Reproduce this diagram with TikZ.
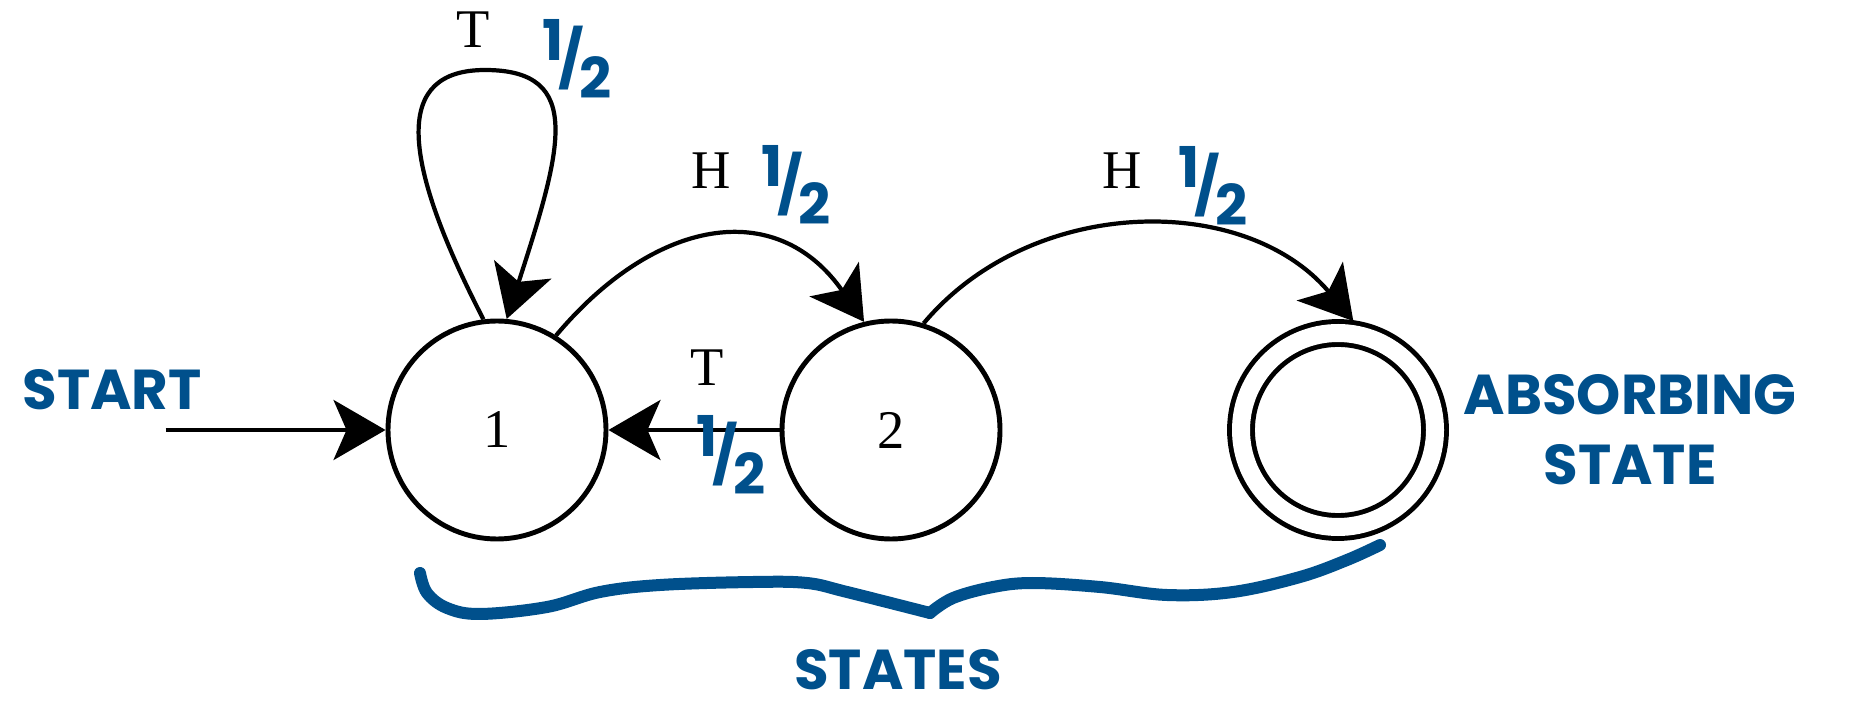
\documentclass[tikz,border=0pt]{standalone}
\usepackage{fontspec}
\setmainfont{Liberation Serif}
\newfontfamily\handfont{Poppins}
\usetikzlibrary{arrows.meta,positioning}
\definecolor{ink}{HTML}{00508C}
\newcommand{\hhalf}{\raisebox{0.6ex}{1}\kern-0.08em/\kern-0.08em\raisebox{-0.6ex}{2}}

\begin{document}
\begin{tikzpicture}[
  st/.style={circle, draw, line width=1.4pt, minimum size=2.18cm, inner sep=0pt, font=\fontsize{15.5}{18}\selectfont},
  absorb/.style={circle, draw, line width=1.4pt, double, double distance=0.18cm, minimum size=1.94cm, inner sep=0pt, outer sep=0.13cm},
  arrow/.style={-{Stealth[length=5.2mm, width=6mm, inset=1.3mm]}, line width=1.2pt},
  lbl/.style={font=\fontsize{15.5}{18}\selectfont, inner sep=0pt},
  hand/.style={ink, font=\handfont\bfseries\fontsize{16}{20}\selectfont, inner sep=0pt, align=center},
  brace/.style={ink, line width=0.12cm, line cap=round, line join=round}
]
  \useasboundingbox (0,0) rectangle (18.62,7.10);

  % states
  \node[st] (s1) at (4.97,2.8) {1};
  \node[st] (s2) at (8.91,2.8) {2};
  \node[absorb] (s3) at (13.38,2.8) {};

  % start arrow
  \coordinate[left=2.2cm of s1.west] (in);
  \draw[arrow] (in) -- (s1);
  \node[hand] (start) at (1.12,3.20) {START};

  % transitions
  \coordinate (looptop) at (4.85,6.40);
  \draw[arrow] (s1.97) .. controls +(-0.85,1.65) and +(-0.9,0) .. (looptop)
    .. controls +(1.0,0) and +(0.55,1.7) .. (s1.85);
  \draw[arrow] (s1.58) to[out=50, in=125, looseness=1.27] (s2.104);
  \draw[arrow] (s2.73) to[out=50, in=130] (s3.82);
  \draw[arrow] (s2) -- (s1);

  % coin labels
  \node[lbl] (tl) at (4.73,6.80) {T};
  \node[lbl] (h1) at (7.11,5.39) {H};
  \node[lbl] (h2) at (11.22,5.39) {H};
  \node[lbl] (t2) at (7.07,3.42) {T};

  % hand notes
  \node[hand] (f0) at (5.77,6.51) {\hhalf};
  \node[hand] (f1) at (7.96,5.25) {\hhalf};
  \node[hand] (f2) at (12.13,5.24) {\hhalf};
  \node[hand] (f3) at (7.31,2.55) {\hhalf};
  \node[hand, right=0.15cm of s3] (abs) {ABSORBING\\STATE};

  % brace under the states
  \draw[brace] plot[smooth, tension=0.6] coordinates {(4.20,1.37) (4.27,1.17) (4.47,1.02) (4.80,0.96) (5.47,1.03) (6.00,1.18) (6.60,1.25) (7.53,1.28) (8.07,1.27) (8.47,1.18) (9.30,0.97)};
  \draw[brace] plot[smooth, tension=0.6] coordinates {(9.30,0.97) (9.53,1.12) (9.93,1.23) (10.33,1.27) (11.00,1.23) (11.67,1.15) (12.33,1.18) (13.00,1.33) (13.47,1.50) (13.80,1.65)};
  \node[hand] (states) at (8.98,0.40) {STATES};
\end{tikzpicture}
\end{document}
